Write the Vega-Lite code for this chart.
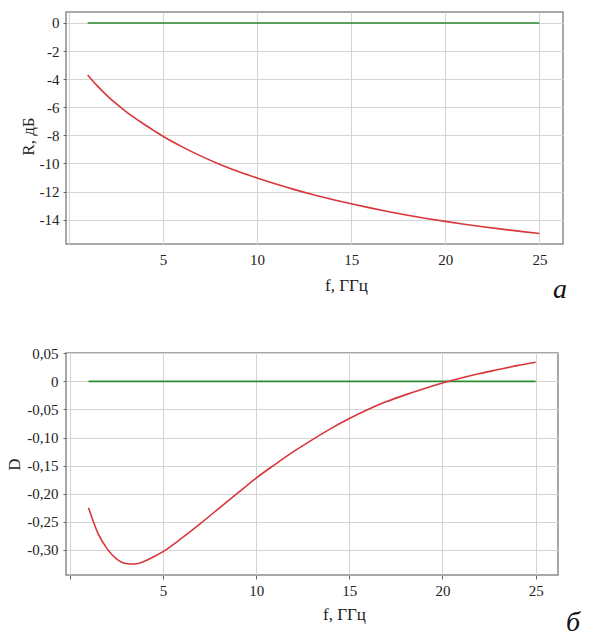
{
  "$schema": "https://vega.github.io/schema/vega-lite/v6.json",
  "padding": {"left": 5, "top": 11, "right": 1, "bottom": 2},
  "spacing": 40,
  "datasets": {
    "top": [
      {"f": 1, "v": 0, "s": "ref"}, {"f": 25, "v": 0, "s": "ref"},
      {"f": 1, "v": -3.7, "s": "curve"}, {"f": 1.5, "v": -4.46, "s": "curve"}, {"f": 2, "v": -5.13, "s": "curve"},
      {"f": 2.5, "v": -5.73, "s": "curve"}, {"f": 3, "v": -6.27, "s": "curve"}, {"f": 3.5, "v": -6.76, "s": "curve"},
      {"f": 4, "v": -7.21, "s": "curve"}, {"f": 4.5, "v": -7.64, "s": "curve"}, {"f": 5, "v": -8.06, "s": "curve"},
      {"f": 6, "v": -8.8, "s": "curve"}, {"f": 7, "v": -9.46, "s": "curve"}, {"f": 8, "v": -10.05, "s": "curve"},
      {"f": 9, "v": -10.57, "s": "curve"}, {"f": 10, "v": -11.03, "s": "curve"}, {"f": 11, "v": -11.46, "s": "curve"},
      {"f": 12, "v": -11.86, "s": "curve"}, {"f": 13, "v": -12.23, "s": "curve"}, {"f": 14, "v": -12.56, "s": "curve"},
      {"f": 15, "v": -12.87, "s": "curve"}, {"f": 16, "v": -13.16, "s": "curve"}, {"f": 17, "v": -13.43, "s": "curve"},
      {"f": 18, "v": -13.68, "s": "curve"}, {"f": 19, "v": -13.91, "s": "curve"}, {"f": 20, "v": -14.12, "s": "curve"},
      {"f": 21, "v": -14.32, "s": "curve"}, {"f": 22, "v": -14.5, "s": "curve"}, {"f": 23, "v": -14.67, "s": "curve"},
      {"f": 24, "v": -14.83, "s": "curve"}, {"f": 25, "v": -14.98, "s": "curve"}
    ],
    "bottom": [
      {"f": 1, "v": 0, "s": "ref"}, {"f": 25, "v": 0, "s": "ref"},
      {"f": 1, "v": -0.225, "s": "curve"}, {"f": 1.5, "v": -0.27, "s": "curve"}, {"f": 2, "v": -0.298, "s": "curve"},
      {"f": 2.5, "v": -0.316, "s": "curve"}, {"f": 3, "v": -0.324, "s": "curve"}, {"f": 3.5, "v": -0.325, "s": "curve"},
      {"f": 4, "v": -0.32, "s": "curve"}, {"f": 4.5, "v": -0.312, "s": "curve"}, {"f": 5, "v": -0.303, "s": "curve"},
      {"f": 6, "v": -0.279, "s": "curve"}, {"f": 7, "v": -0.253, "s": "curve"}, {"f": 8, "v": -0.226, "s": "curve"},
      {"f": 9, "v": -0.199, "s": "curve"}, {"f": 10, "v": -0.172, "s": "curve"}, {"f": 11, "v": -0.148, "s": "curve"},
      {"f": 12, "v": -0.125, "s": "curve"}, {"f": 13, "v": -0.104, "s": "curve"}, {"f": 14, "v": -0.084, "s": "curve"},
      {"f": 15, "v": -0.066, "s": "curve"}, {"f": 16, "v": -0.05, "s": "curve"}, {"f": 17, "v": -0.036, "s": "curve"},
      {"f": 18, "v": -0.024, "s": "curve"}, {"f": 19, "v": -0.013, "s": "curve"}, {"f": 20, "v": -0.003, "s": "curve"},
      {"f": 21, "v": 0.006, "s": "curve"}, {"f": 22, "v": 0.014, "s": "curve"}, {"f": 23, "v": 0.021, "s": "curve"},
      {"f": 24, "v": 0.028, "s": "curve"}, {"f": 25, "v": 0.034, "s": "curve"}
    ]
  },
  "vconcat": [
    {
      "width": 497,
      "height": 232,
      "title": {"text": "а", "orient": "bottom", "anchor": "end", "font": "Liberation Serif", "fontStyle": "italic", "fontWeight": "normal", "fontSize": 28, "color": "#111", "offset": -17, "dx": 4},
      "data": {"name": "top"},
      "mark": {"type": "line", "interpolate": "monotone", "strokeWidth": 1.6},
      "encoding": {
        "x": {"field": "f", "type": "quantitative", "scale": {"domain": [-0.15, 26.25], "nice": false, "zero": false},
              "axis": {"title": "f, ГГц", "values": [0, 5, 10, 15, 20, 25], "labelExpr": "datum.value == 0 ? '' : datum.label", "ticks": false, "labelPadding": 8, "titlePadding": 10, "titleX": 280}},
        "y": {"field": "v", "type": "quantitative", "scale": {"domain": [-15.73, 0.78], "nice": false, "zero": false},
              "axis": {"title": "R, дБ", "values": [-14, -12, -10, -8, -6, -4, -2, 0], "labelExpr": "datum.value < 0 ? '-' + abs(datum.value) : '0'", "tickSize": 3, "labelPadding": 4, "titleX": -29, "titleY": 124}},
        "color": {"field": "s", "type": "nominal", "scale": {"domain": ["ref", "curve"], "range": ["#2e8b2e", "#d8363a"]}, "legend": null}
      }
    },
    {
      "width": 492,
      "height": 222,
      "title": {"text": "б", "orient": "bottom", "anchor": "end", "font": "Liberation Serif", "fontStyle": "italic", "fontWeight": "normal", "fontSize": 28, "color": "#111", "offset": -13, "dx": 22},
      "data": {"name": "bottom"},
      "mark": {"type": "line", "interpolate": "monotone", "strokeWidth": 1.6},
      "encoding": {
        "x": {"field": "f", "type": "quantitative", "scale": {"domain": [-0.21, 26.2], "nice": false, "zero": false},
              "axis": {"title": "f, ГГц", "values": [0, 5, 10, 15, 20, 25], "labelExpr": "datum.value == 0 ? '' : datum.label", "tickSize": 4, "labelPadding": 4, "titlePadding": 8, "titleX": 278}},
        "y": {"field": "v", "type": "quantitative", "scale": {"domain": [-0.3445, 0.0505], "nice": false, "zero": false},
              "axis": {"title": "D", "values": [-0.3, -0.25, -0.2, -0.15, -0.1, -0.05, 0, 0.05], "labelExpr": "datum.value == 0 ? '0' : (datum.value < 0 ? '-' : '') + replace(format(abs(datum.value), '.2f'), '.', ',')", "tickSize": 3, "labelPadding": 5, "titlePadding": 2.8}},
        "color": {"field": "s", "type": "nominal", "scale": {"domain": ["ref", "curve"], "range": ["#2e8b2e", "#d8363a"]}, "legend": null}
      }
    }
  ],
  "config": {
    "font": "Liberation Serif",
    "view": {"stroke": "#8c8c8c", "strokeWidth": 1.5},
    "axis": {
      "labelFont": "Liberation Serif", "titleFont": "Liberation Serif",
      "labelFontSize": 15, "titleFontSize": 17, "titleFontWeight": "normal",
      "labelColor": "#222", "titleColor": "#222",
      "gridColor": "#d4d4d4", "gridWidth": 1, "gridOpacity": 1,
      "domain": false, "tickColor": "#666"
    }
  }
}
